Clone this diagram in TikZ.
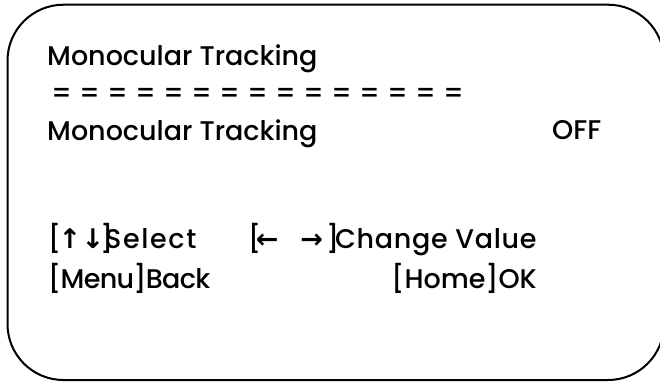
\documentclass[tikz,border=0pt]{standalone}
\usepackage{fontspec}
\setmainfont{Poppins}[UprightFont=* Medium]
\newfontfamily\arrowfont{DejaVu Sans}[UprightFont=* Bold]
\newcommand{\osdarrow}[2]{\makebox[#1][c]{\arrowfont\fontsize{27}{30}\selectfont #2}}
\newcommand{\osdspace}[2]{{\addfontfeature{LetterSpace=#1}#2}}
\begin{document}
\begin{tikzpicture}[x=1pt,y=-1pt,
  osd/.style={anchor=base west,inner sep=0pt,font=\fontsize{27}{32}\selectfont},
  osdr/.style={anchor=base east,inner sep=0pt,font=\fontsize{27}{32}\selectfont}]
\useasboundingbox (0,0) rectangle (660,383);
\begin{scope}
\clip (0,0) rectangle (660,383);
\draw[line width=2pt,rounded corners=56pt] (7.5,4.7) rectangle (664,380);
\end{scope}
\node[osd] (title) at (47,65.5) {Monocular Tracking};
\node[osd] (sep) at (51,102) {\foreach \i in {1,...,15}{\makebox[28pt][l]{=}}};
\node[osd] (item) at (47,140) {Monocular Tracking};
\node[osd] (val) at (552,139.5) {OFF};
\node[osd] (sel) at (48,248) {\makebox[14pt][l]{[}\osdarrow{15.4pt}{↑}\hspace{10.3pt}\osdarrow{10pt}{↓}\hspace{2.3pt}\makebox[5pt][l]{]}\osdspace{6}{Select}};
\node[osd] (chg) at (248,248) {\makebox[8pt][l]{[}\osdarrow{22pt}{←}\hspace{22.5pt}\osdarrow{22pt}{→}\hspace{3.5pt}\makebox[9pt][l]{]}\osdspace{2.5}{Change Value}};
\node[osd] (back) at (48,288) {\osdspace{-2.5}{[Menu]Back}};
\node[osdr] (ok) at (537,288) {[Home]OK};
\end{tikzpicture}
\end{document}
